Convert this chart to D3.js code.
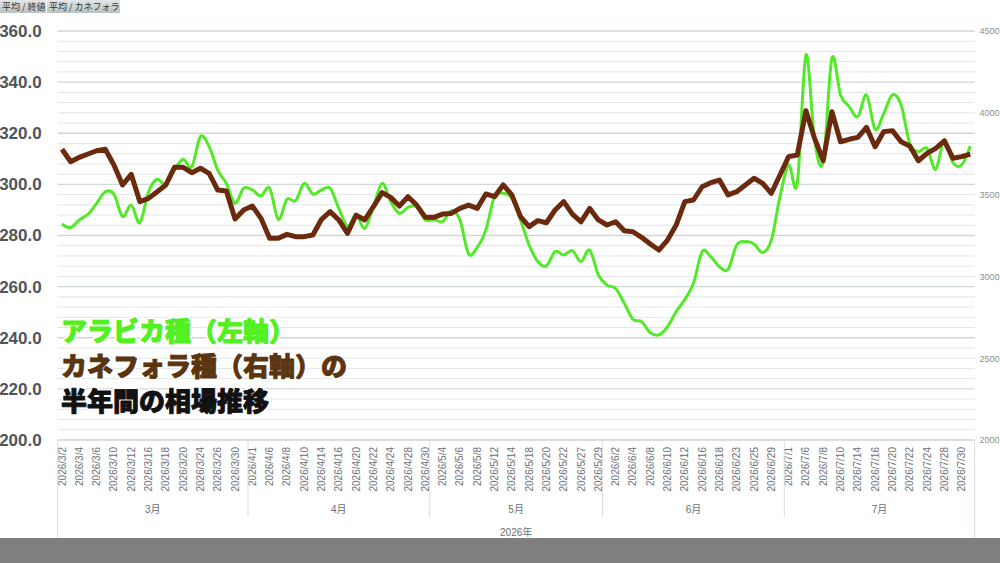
<!DOCTYPE html>
<html>
<head>
<meta charset="utf-8">
<script src="https://cdn.jsdelivr.net/npm/d3@7"></script>
<style>
  html, body { margin: 0; padding: 0; background: #fff; }
  svg { display: block; }
</style>
</head>
<body>
<svg id="chart" width="1000" height="563"></svg>
<script>
// trading days per month (2026)
var marchDays = [2,3,4,5,6,9,10,11,12,13,16,17,18,19,20,23,24,25,26,27,30,31];
var aprilDays = [1,2,6,7,8,9,10,13,14,15,16,17,20,21,22,23,24,27,28,29,30];
var mayDays   = [1,4,5,6,7,8,11,12,13,14,15,18,19,20,21,22,26,27,28,29];
var juneDays  = [1,2,3,4,5,8,9,10,11,12,15,16,17,18,22,23,24,25,26,29,30];
var julyDays  = [1,2,6,7,8,9,10,13,14,15,16,17,20,21,22,23,24,27,28,29,30,31];
var monthNums = [3,4,5,6,7];
var monthLabels = ["3月","4月","5月","6月","7月"];
var yearLabel = "2026年";

// アラビカ (left axis)
var arabica = [
  284.5, 283.1, 286.1, 288.3, 292.6, 297.1, 296.2, 287.4, 291.9, 285.0,
  297.1, 302.0, 299.8, 305.6, 309.8, 306.9, 318.7, 314.8, 305.6, 300.4,
  292.6, 298.5, 297.8, 295.5, 298.5, 286.3, 294.2, 293.6, 300.4, 296.2,
  297.8, 298.5, 290.6, 283.7, 288.0, 282.8, 291.3, 300.4, 293.2, 288.7,
  291.0, 291.3, 286.1, 286.3, 285.4, 289.7, 286.1, 272.8, 275.4, 282.2,
  295.2, 296.5, 294.6, 286.1, 276.3, 269.8, 268.1, 273.7, 272.4, 274.1,
  269.8, 274.3, 264.6, 260.6, 259.3, 253.5, 247.2, 246.3, 242.0, 241.1,
  244.3, 250.2, 255.0, 261.3, 273.7, 271.7, 267.8, 266.8, 276.3, 277.6,
  276.7, 273.3, 278.2, 295.2, 307.6, 300.4, 350.6, 317.4, 308.9, 349.3,
  335.0, 330.4, 326.5, 335.0, 321.6, 327.8, 335.0, 331.1, 316.1, 312.8,
  314.1, 305.9, 317.4, 308.5, 307.6, 315.0
];

// カネフォラ (right axis)
var canephora = [
  3777, 3701, 3728, 3748, 3768, 3777, 3681, 3559, 3624, 3457,
  3477, 3518, 3559, 3667, 3667, 3634, 3661, 3630, 3528, 3522,
  3351, 3406, 3430, 3355, 3233, 3233, 3257, 3243, 3243, 3253,
  3349, 3396, 3345, 3263, 3375, 3345, 3426, 3512, 3483, 3430,
  3487, 3436, 3361, 3361, 3381, 3385, 3416, 3436, 3416, 3504,
  3487, 3559, 3498, 3365, 3304, 3341, 3328, 3406, 3457, 3381,
  3334, 3416, 3345, 3314, 3334, 3279, 3273, 3239, 3198, 3161,
  3222, 3314, 3457, 3467, 3548, 3573, 3589, 3498, 3518, 3559,
  3600, 3569, 3508, 3620, 3732, 3742, 4013, 3844, 3707, 4007,
  3823, 3838, 3850, 3911, 3793, 3885, 3891, 3823, 3797, 3707,
  3752, 3783, 3829, 3722, 3732, 3748
];

var leftTicks = [200, 220, 240, 260, 280, 300, 320, 340, 360];
var rightTicks = [2000, 2500, 3000, 3500, 4000, 4500];
var headerLabels = ["平均 / 終値", "平均 / カネフォラ"];
var titleLines = ["アラビカ種（左軸）", "カネフォラ種（右軸）の", "半年間の相場推移"];

var monthDays = [marchDays, aprilDays, mayDays, juneDays, julyDays];
var dates = [];
monthDays.forEach(function(days, m) {
  days.forEach(function(d) { dates.push("2026/" + monthNums[m] + "/" + d); });
});

var fontLatin = "'Liberation Sans', Arial, 'Noto Sans CJK JP', sans-serif";
var fontJp = "'Noto Sans CJK JP', sans-serif";

var plot = {left: 57.7, right: 974.6, top: 31, bottom: 440};

var svg = d3.select("#chart");

var x = d3.scaleBand().domain(dates).range([plot.left, plot.right]).padding(0);
var yL = d3.scaleLinear().domain([200, 360]).range([plot.bottom, plot.top]);
var yR = d3.scaleLinear().domain([2000, 4500]).range([plot.bottom, plot.top]);
function cx(d) { return x(d) + x.bandwidth() / 2; }

// grid
var grid = svg.append("g");
grid.selectAll("line")
  .data(d3.range(200, 361, 4))
  .enter().append("line")
  .attr("x1", plot.left).attr("x2", plot.right)
  .attr("y1", function(d) { return yL(d); })
  .attr("y2", function(d) { return yL(d); })
  .attr("stroke", function(d) { return d % 20 === 0 ? "#d0d7db" : "#e2e6e9"; })
  .attr("stroke-width", function(d) { return d % 20 === 0 ? 1.3 : 1; });

// left axis
var gl = svg.append("g")
  .attr("transform", "translate(" + plot.left + ",0)")
  .call(d3.axisLeft(yL).tickValues(leftTicks).tickFormat(d3.format(".1f")).tickSize(0).tickPadding(16));
gl.select(".domain").remove();
gl.selectAll("text")
  .style("font-family", fontLatin)
  .style("font-size", "17px")
  .style("font-weight", "bold")
  .attr("fill", "#4f555a");

// right axis
var gr = svg.append("g")
  .attr("transform", "translate(" + plot.right + ",0)")
  .call(d3.axisRight(yR).tickValues(rightTicks).tickFormat(d3.format("d")).tickSize(0).tickPadding(5));
gr.select(".domain").remove();
gr.selectAll("text")
  .style("font-family", fontLatin)
  .style("font-size", "9px")
  .attr("fill", "#8a8f93");

// x axis
var gx = svg.append("g")
  .attr("transform", "translate(0," + plot.bottom + ")")
  .call(d3.axisBottom(x).tickValues(dates.filter(function(d, i) { return i % 2 === 0; })).tickSize(0));
gx.select(".domain").remove();
gx.selectAll("text")
  .attr("transform", "rotate(-90)")
  .attr("x", -7).attr("y", 0).attr("dy", "0.35em")
  .style("text-anchor", "end")
  .style("font-family", fontLatin)
  .style("font-size", "10px")
  .attr("fill", "#6b7075");

// frame of category area
var frame = svg.append("g").attr("stroke", "#d9dee1").attr("stroke-width", 1);
frame.append("line").attr("x1", plot.left).attr("x2", plot.right).attr("y1", plot.bottom).attr("y2", plot.bottom);
frame.append("line").attr("x1", plot.left).attr("x2", plot.left).attr("y1", plot.bottom).attr("y2", 538);
frame.append("line").attr("x1", plot.right).attr("x2", plot.right).attr("y1", plot.bottom).attr("y2", 538);

var bounds = [];
var idx = 0;
monthDays.forEach(function(days) {
  bounds.push({start: dates[idx], end: dates[idx + days.length - 1]});
  idx += days.length;
});
frame.selectAll(".sep")
  .data(bounds.slice(1))
  .enter().append("line")
  .attr("class", "sep")
  .attr("x1", function(b) { return x(b.start); })
  .attr("x2", function(b) { return x(b.start); })
  .attr("y1", plot.bottom).attr("y2", 517);

svg.selectAll(".month")
  .data(bounds)
  .enter().append("text")
  .attr("class", "month")
  .attr("x", function(b) { return (x(b.start) + x(b.end) + x.bandwidth()) / 2; })
  .attr("y", 513)
  .attr("text-anchor", "middle")
  .style("font-family", fontLatin)
  .style("font-size", "10px")
  .attr("fill", "#6b7075")
  .text(function(b, i) { return monthLabels[i]; });

svg.append("text")
  .attr("x", (plot.left + plot.right) / 2)
  .attr("y", 536)
  .attr("text-anchor", "middle")
  .style("font-family", fontLatin)
  .style("font-size", "10px")
  .attr("fill", "#6b7075")
  .text(yearLabel);

// bottom band
svg.append("rect").attr("x", 0).attr("y", 538).attr("width", 1000).attr("height", 25).attr("fill", "#7f7f7f");

// lines
var lineA = d3.line()
  .x(function(d, i) { return cx(dates[i]); })
  .y(function(d) { return yL(d); })
  .curve(d3.curveCardinal.tension(0));
var lineC = d3.line()
  .x(function(d, i) { return cx(dates[i]); })
  .y(function(d) { return yR(d); });

svg.append("path")
  .datum(arabica)
  .attr("d", lineA)
  .attr("fill", "none")
  .attr("stroke", "#52ea26")
  .attr("stroke-width", 3)
  .attr("stroke-linejoin", "round");

svg.append("path")
  .datum(canephora)
  .attr("d", lineC)
  .attr("fill", "none")
  .attr("stroke", "#6b2a0e")
  .attr("stroke-width", 5)
  .attr("stroke-linejoin", "round");

// header buttons
var defs = svg.append("defs");
var grad = defs.append("linearGradient").attr("id", "btn").attr("x1", 0).attr("x2", 0).attr("y1", 0).attr("y2", 1);
grad.append("stop").attr("offset", "0%").attr("stop-color", "#e2e6e6");
grad.append("stop").attr("offset", "100%").attr("stop-color", "#b9c1c1");
var btnX = [0, 47], btnW = [46, 73];
var hb = svg.append("g").selectAll("g")
  .data(headerLabels)
  .enter().append("g")
  .attr("transform", function(d, i) { return "translate(" + btnX[i] + ",0)"; });
hb.append("rect").attr("width", function(d, i) { return btnW[i]; }).attr("height", 13).attr("fill", "url(#btn)");
hb.append("text")
  .attr("x", 2).attr("y", 9.5)
  .style("font-family", fontJp)
  .style("font-size", "9px")
  .attr("fill", "#333")
  .text(function(d) { return d; });

// title overlay: white halo, then text thickened with its own colour
var titleColors = ["#52f020", "#5b3410", "#111111"];
var tg = svg.append("g");
function titleLayer(stroke, width) {
  tg.append("g").selectAll("text")
    .data(titleLines)
    .enter().append("text")
    .attr("x", 61)
    .attr("y", function(d, i) { return 341 + i * 35; })
    .style("font-family", fontJp)
    .style("font-size", "26px")
    .style("font-weight", "900")
    .attr("fill", function(d, i) { return titleColors[i]; })
    .attr("stroke", function(d, i) { return stroke || titleColors[i]; })
    .attr("stroke-width", width)
    .attr("stroke-linejoin", "round")
    .text(function(d) { return d; });
}
titleLayer("#fff", 4);
titleLayer(null, 0.9);
</script>
</body>
</html>
